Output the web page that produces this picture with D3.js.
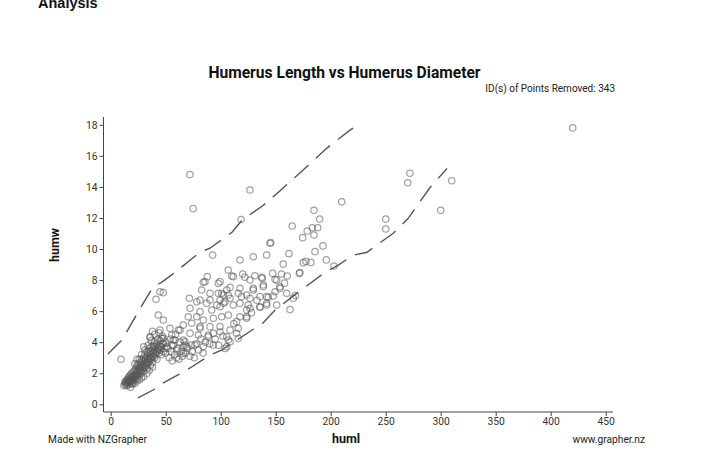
<!DOCTYPE html>
<html><head><meta charset="utf-8">
<script src="https://cdn.jsdelivr.net/npm/d3@7"></script>
<style>
html,body{margin:0;padding:0;background:#fff;}
svg{display:block;}
text{font-family:Roboto,"Liberation Sans",Arial,sans-serif;}
</style></head>
<body>
<svg id="c" width="720" height="473"></svg>
<script>
const xTicks = [0,50,100,150,200,250,300,350,400,450];
const yTicks = [0,2,4,6,8,10,12,14,16,18];

// humerus length (huml) and humerus diameter (humw)
const huml = [
 420,72,75,126.6,118.5,210,272,270,310,300,250,250,
 184.8,190,165,183.3,188.2,178.7,184.8,174.5,144.8,145.5,185.7,92.7,117.5,129.6,141.8,156.9,175,177.5,182,171.5,172,
 106.9,120,131,137.3,147.3,155.2,160.5,87.8,
 99.4,111.5,122,126.6,137.8,149.4,105.5,117.5,116,119,129.6,138.7,153.9,102.4,108.5,99.4,126.6,117.5,111.5,102.7,99.4,
 143.3,147.8,141.8,126.6,135.7,
 110,84.2,97.8,82.7,108.5,100.9,106.9,44.8,47.8,41.2,71.5,81.2,90.3,103.9,96.4,87.3,78.2,
 43.3,47.8,72.1,81.2,91.8,70.5,78.2,84.2,93.3,100.9,106.9,114.5,123.6,
 66,73.6,81.2,90.3,99.4,108.5,116,72.1,79.6,88.7,99.4,105.5,116,
 44.8,53.9,61.5,35.7,47.8,56.9,66,67.5,76.6,84.2,93.3,108.5,105.5,38.7,55.5,
 85.7,138.7,150.9,153.9,90.3,97.8,123.6,129.6,135.7,141.8,149.4,160,125,135.7,141.8,150.9,166,123.6,117.5,123.6,114.5,106.9,
 63,55.5,58.5,46.4,50.9,60,67.5,69.1,66,73.6,81.2,88.7,93.3,
 9.4,
 12,13,13,14,14,15,15,15,16,16,16,17,17,17,18,18,18,19,19,19,20,20,20,21,21,21,22,22,22,23,23,23,24,24,24,25,25,25,26,26,26,27,27,27,28,28,28,29,29,29,30,30,30,31,31,31,32,32,32,33,33,33,34,34,34,35,35,35,36,36,36,37,37,37,38,38,38,39,39,40,40,40,41,41,42,42,42,43,43,44,44,45,45,46,46,47,47,48,49,50,50,
 18,20,22,24,26,28,30,33,35,38,26,22,24,28,31,34,37,40,30,36,44,38,
 52,53,54,55,56,57,58,59,60,61,62,63,64,65,66,68,70,72,74,76,78,80,82,84,86,90,95,98,102,104,
 112,128,133,158,163,168,196,203,162,193,
 14,16,19,21,23,25,27,29,32,34,36,39,41,43,45,48
];
const humw = [
 17.8,14.8,12.6,13.8,11.9,13.04,14.88,14.27,14.4,12.49,11.93,11.29,
 12.49,11.93,11.48,11.37,11.37,11.16,10.9,10.73,10.37,10.42,9.83,9.61,9.29,9.5,9.61,9.03,9.12,9.2,9.14,8.43,8.48,
 8.65,8.39,8.28,8.18,8.43,8.39,8.26,8.22,
 7.9,8.22,8.18,8.0,8.11,8.05,7.36,7.47,7.15,6.93,7.47,7.57,7.47,7.04,6.83,6.72,6.83,6.5,6.39,6.5,6.28,
 6.89,6.97,6.5,6.18,6.25,
 8.26,7.86,7.79,7.36,7.53,7.15,7.04,7.25,7.19,6.76,6.83,6.72,6.72,6.6,6.39,6.5,6.6,
 5.75,5.43,6.18,5.96,6.07,5.64,5.64,5.43,5.54,5.64,5.75,5.32,5.54,
 5.1,5.22,5.0,5.0,5.0,4.78,4.89,4.57,4.46,4.46,4.67,4.35,4.25,
 4.78,4.89,4.78,4.35,4.25,4.14,4.14,3.82,3.82,3.71,3.82,4.03,3.71,3.71,3.82,
 7.9,7.68,8.0,7.57,7.15,7.15,7.04,7.36,6.93,6.93,7.25,7.15,6.39,6.28,6.39,6.39,6.83,6.07,5.64,5.64,4.57,4.14,
 4.78,4.46,4.14,4.25,3.71,3.5,4.03,3.71,3.28,3.82,4.89,4.35,4.57,
 2.9,
 1.2,1.3,1.45,1.25,1.5,1.35,1.6,1.2,1.4,1.7,1.55,1.3,1.8,1.5,1.45,1.65,1.9,1.35,1.75,2.0,1.55,1.85,1.6,1.45,2.1,1.7,1.9,2.2,1.6,1.8,2.05,2.35,1.7,2.15,2.5,1.95,2.3,2.6,1.85,2.2,2.45,2.1,2.7,2.35,2.0,2.55,2.9,2.3,2.75,2.45,2.15,2.6,3.0,2.4,2.85,3.2,2.5,2.95,2.7,2.3,3.1,3.4,2.65,2.9,3.3,2.8,3.1,3.6,2.5,3.0,3.4,2.9,3.2,3.7,3.05,3.5,2.7,3.3,3.8,3.0,3.5,4.0,3.2,3.7,3.4,3.9,2.9,3.6,4.2,3.3,3.8,3.5,4.1,3.7,3.2,3.9,4.4,3.4,3.6,4.0,3.3,
 1.1,1.3,1.35,1.5,1.6,1.7,1.8,2.0,2.2,2.4,2.9,2.6,2.9,3.2,3.5,3.8,4.1,4.5,3.7,4.3,4.6,4.7,
 3.6,3.0,4.2,3.4,2.8,3.8,3.2,4.5,3.0,3.6,2.9,4.0,3.4,3.1,3.7,3.3,3.6,3.1,3.4,3.0,3.9,3.5,4.2,3.3,4.0,3.9,4.2,3.8,4.4,3.6,
 5.2,5.9,6.7,7.8,6.1,7.0,9.3,8.9,9.7,10.2,
 1.4,1.5,1.6,1.8,1.9,2.0,2.2,2.4,2.6,2.75,2.95,3.1,3.3,3.5,3.7,3.9
];

// dashed band lines
const upperX = [-2.5,10.3,24.8,38.5,46.6,58.5,81.2,90.3,110.3,119.4,138.5,151.2,172,196.6,217.5,222];
const upperY = [3.24,4.14,5.94,7.55,7.87,8.5,9.8,10.05,11.08,11.86,12.8,13.58,14.9,16.5,17.66,17.86];
const lowerX = [24.8,38.5,47.5,61.2,72.1,90.3,101.2,117.5,138.5,149.4,169.4,194.8,206.6,220.3,233,244.8,256.6,270.3,290.3,305.7];
const lowerY = [0.41,0.92,1.37,1.89,2.34,3.17,3.5,4.27,5.24,6.07,7.16,8.5,8.95,9.6,9.79,10.4,11.0,11.96,13.96,15.18];

const svg = d3.select("#c");
const x = d3.scaleLinear().domain([0,450]).range([110.7,605.7]);
const y = d3.scaleLinear().domain([0,18]).range([404.3,124.8]);

// top-left text, cut at the top edge as in the reference
svg.append("text").attr("x",38).attr("y",8).attr("font-size",14.5).attr("font-weight","bold")
  .style("font-family","'Liberation Sans',Arial,sans-serif").attr("fill","#111").text("Analysis");

// title
svg.append("text").attr("x",344.5).attr("y",78).attr("text-anchor","middle").attr("font-size",15.6)
  .attr("font-weight","bold").attr("fill","#111").text("Humerus Length vs Humerus Diameter");
svg.append("text").attr("x",615).attr("y",92).attr("text-anchor","end").attr("font-size",10)
  .attr("fill","#222").text("ID(s) of Points Removed: 343");

// axes
const gx = svg.append("g").attr("transform","translate(0,412)")
  .call(d3.axisBottom(x).tickValues(xTicks).tickSize(4).tickSizeOuter(0).tickPadding(2));
gx.select(".domain").remove();
gx.selectAll("line").attr("stroke","#444");
gx.selectAll("text").attr("font-size",10.3).attr("fill","#333").style("font-family","Roboto,sans-serif");
svg.append("line").attr("x1",103.5).attr("x2",613).attr("y1",412).attr("y2",412).attr("stroke","#444");

const gy = svg.append("g").attr("transform","translate(103.5,0)")
  .call(d3.axisLeft(y).tickValues(yTicks).tickSize(4).tickSizeOuter(0).tickPadding(2));
gy.select(".domain").remove();
gy.selectAll("line").attr("stroke","#444");
gy.selectAll("text").attr("font-size",10.3).attr("fill","#333").style("font-family","Roboto,sans-serif");
svg.append("line").attr("x1",103.5).attr("x2",103.5).attr("y1",117).attr("y2",412).attr("stroke","#444");

// axis titles and footer
svg.append("text").attr("x",346).attr("y",443).attr("text-anchor","middle").attr("font-size",12.5)
  .attr("font-weight","bold").attr("fill","#111").text("huml");
svg.append("text").attr("transform","translate(59,245) rotate(-90)").attr("text-anchor","middle")
  .attr("font-size",12.5).attr("font-weight","bold").attr("fill","#111").text("humw");
svg.append("text").attr("x",48).attr("y",443).attr("font-size",10.2).attr("fill","#222").text("Made with NZGrapher");
svg.append("text").attr("x",645).attr("y",443).attr("text-anchor","end").attr("font-size",10.2).attr("fill","#222").text("www.grapher.nz");

// dashed lines
const line = d3.line().x(d=>x(d[0])).y(d=>y(d[1]));
[[upperX,upperY],[lowerX,lowerY]].forEach(([xs,ys])=>{
  svg.append("path").datum(xs.map((v,i)=>[v,ys[i]])).attr("d",line)
    .attr("fill","none").attr("stroke","#555").attr("stroke-width",1.4).attr("stroke-dasharray","19,10");
});

// points
const pts = huml.map((v,i)=>[v,humw[i]]);
svg.append("g").selectAll("circle").data(pts).join("circle")
  .attr("cx",d=>x(d[0])).attr("cy",d=>y(d[1])).attr("r",3.2)
  .attr("fill","none").attr("stroke","#555").attr("stroke-opacity",0.55).attr("stroke-width",1.25);
</script>
</body></html>
